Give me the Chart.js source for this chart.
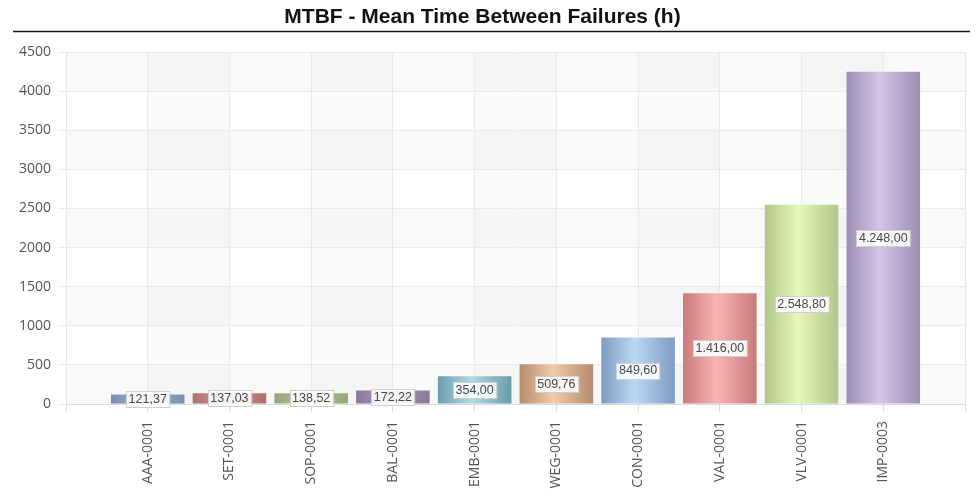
<!DOCTYPE html>
<html>
<head>
<meta charset="utf-8">
<script src="https://cdn.jsdelivr.net/npm/chart.js@4.4.1/dist/chart.umd.min.js"></script>
<style>
  html, body { margin: 0; padding: 0; background: #ffffff; }
  #wrap { width: 976px; height: 496px; }
</style>
</head>
<body>
<div id="wrap"><canvas id="c" width="976" height="496"></canvas></div>
<script>
// ---- data ----
const categories = ['AAA-0001', 'SET-0001', 'SOP-0001', 'BAL-0001', 'EMB-0001', 'WEG-0001', 'CON-0001', 'VAL-0001', 'VLV-0001', 'IMP-0003'];
const mtbfHours = [121.37, 137.03, 138.52, 172.22, 354.00, 509.76, 849.60, 1416.00, 2548.80, 4248.00];
const yTicks = [0, 500, 1000, 1500, 2000, 2500, 3000, 3500, 4000, 4500];
const chartTitle = 'MTBF - Mean Time Between Failures (h)';

// ---- styles ----
const edgeColors = ['#7a8dad', '#b06e6e', '#95a677', '#8a7899', '#6a9cac', '#b48b6d', '#7e9bc2', '#c87a7a', '#b2c689', '#9d8db3'];
const midColors  = ['#9fb2cf', '#d09696', '#b6c698', '#ab98bb', '#b0dbe6', '#f2cba9', '#bcd8f3', '#f9b4b4', '#e6f7b9', '#d3c5e8'];

// padded category axis (empty slot at each end)
const labels = [''].concat(categories, ['']);
const values = [null].concat(mtbfHours, [null]);

function fmtBR(v) {
  const parts = v.toFixed(2).split('.');
  return parts[0].replace(/\B(?=(\d{3})+(?!\d))/g, '.') + ',' + parts[1];
}

const bandsPlugin = {
  id: 'bands',
  beforeDraw(chart) {
    const a = chart.chartArea; if (!a) return;
    const ctx = chart.ctx, ys = chart.scales.y, xs = chart.scales.x;
    ctx.save();
    ctx.fillStyle = 'rgba(0,0,0,0.025)';
    for (let i = 0; i < yTicks.length - 1; i++) {
      if ((yTicks.length - 2 - i) % 2 === 0) {
        const y1 = ys.getPixelForValue(yTicks[i + 1]), y0 = ys.getPixelForValue(yTicks[i]);
        ctx.fillRect(a.left, y1, a.right - a.left, y0 - y1);
      }
    }
    ctx.fillStyle = 'rgba(0,0,0,0.02)';
    for (let i = 1; i < labels.length - 1; i += 2) {
      const x0 = xs.getPixelForValue(i), x1 = xs.getPixelForValue(i + 1);
      ctx.fillRect(x0, a.top, x1 - x0, a.bottom - a.top);
    }
    ctx.restore();
  },
  afterDraw(chart) {
    const ctx = chart.ctx;
    ctx.save();
    ctx.strokeStyle = '#1a1a1a';
    ctx.lineWidth = 1.5;
    ctx.beginPath();
    ctx.moveTo(13, 31.5);
    ctx.lineTo(970, 31.5);
    ctx.stroke();
    ctx.restore();
  }
};

const labelPlugin = {
  id: 'valueLabels',
  afterDatasetsDraw(chart) {
    const ctx = chart.ctx;
    const meta = chart.getDatasetMeta(0);
    ctx.save();
    ctx.font = '12.5px "Liberation Sans", Arial, sans-serif';
    ctx.textAlign = 'center';
    ctx.textBaseline = 'middle';
    meta.data.forEach((bar, i) => {
      const v = values[i];
      if (v === null || v === undefined) return;
      const txt = fmtBR(v);
      const cy = (bar.y + bar.base) / 2;
      const w = ctx.measureText(txt).width + 5;
      const h = 16;
      const x0 = Math.round(bar.x - w / 2) + 0.5, y0 = Math.round(cy - h / 2) + 0.5;
      ctx.fillStyle = 'rgba(255,255,255,0.88)';
      ctx.fillRect(x0, y0, w, h);
      ctx.strokeStyle = '#cfcfcf';
      ctx.lineWidth = 1;
      ctx.strokeRect(x0, y0, w, h);
      ctx.fillStyle = '#484848';
      ctx.fillText(txt, bar.x, cy + 0.5);
    });
    ctx.restore();
  }
};

new Chart(document.getElementById('c'), {
  type: 'bar',
  data: {
    labels: labels,
    datasets: [{
      data: values,
      barPercentage: 0.9,
      categoryPercentage: 1.0,
      borderWidth: 0,
      backgroundColor(c) {
        const i = c.dataIndex - 1;
        if (i < 0 || i >= categories.length) return 'rgba(0,0,0,0)';
        const chart = c.chart;
        if (!chart.chartArea) return midColors[i];
        const xs = chart.scales.x;
        const cx = xs.getPixelForValue(c.dataIndex);
        const half = (xs.getPixelForValue(1) - xs.getPixelForValue(0)) * 0.45;
        const g = chart.ctx.createLinearGradient(cx - half, 0, cx + half, 0);
        g.addColorStop(0, edgeColors[i]);
        g.addColorStop(0.45, midColors[i]);
        g.addColorStop(1, edgeColors[i]);
        return g;
      }
    }]
  },
  options: {
    responsive: false,
    animation: false,
    layout: { padding: { left: 0, right: 11, top: 0, bottom: 0 } },
    plugins: {
      legend: { display: false },
      tooltip: { enabled: false },
      title: {
        display: true,
        text: chartTitle,
        color: '#111111',
        font: { family: '"Liberation Sans", Arial, sans-serif', size: 21, weight: 'bold', lineHeight: 1.2 },
        padding: { top: 5, bottom: 21.8 }
      }
    },
    scales: {
      x: {
        type: 'category',
        offset: false,
        grid: { offset: false, color: '#e9e9e9', lineWidth: 1, tickLength: 8, drawTicks: true, tickColor: '#dcdcdc' },
        border: { color: '#dcdcdc' },
        ticks: {
          autoSkip: false,
          minRotation: 90,
          maxRotation: 90,
          padding: 9,
          color: '#555555',
          font: { family: '"Open Sans", sans-serif', size: 14 }
        },
        afterFit(s) { s.height = 92; s.paddingLeft = 0; s.paddingRight = 0; }
      },
      y: {
        min: 0,
        max: 4500,
        afterBuildTicks(s) { s.ticks = yTicks.map(v => ({ value: v })); },
        grid: { color: '#ebebeb', lineWidth: 1, tickLength: 8, tickColor: '#ebebeb' },
        border: { display: false },
        ticks: {
          padding: 7,
          color: '#555555',
          font: { family: '"Open Sans", sans-serif', size: 14 },
          callback: (v) => String(v)
        },
        afterFit(s) { s.width = 66; s.paddingTop = 0; s.paddingBottom = 0; }
      }
    }
  },
  plugins: [bandsPlugin, labelPlugin]
});
</script>
</body>
</html>
